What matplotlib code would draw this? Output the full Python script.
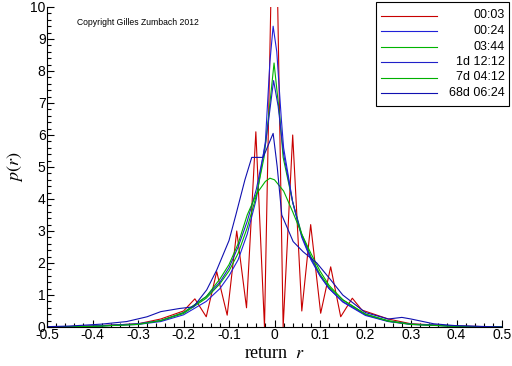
import numpy as np
import matplotlib
matplotlib.use("Agg")
import matplotlib.pyplot as plt
from matplotlib.ticker import MultipleLocator
from matplotlib.lines import Line2D
from matplotlib.patches import Rectangle

plt.rcParams['font.family'] = ['Liberation Sans', 'DejaVu Sans']
plt.rcParams['mathtext.fontset'] = 'stix'

# 00:03  (discretised returns, strong oscillation)
r_003 = [-0.5, -0.4, -0.3, -0.25, -0.2, -0.175, -0.15, -0.127, -0.104, -0.083, -0.0615,
         -0.041, -0.022, 0.0, 0.019, 0.040, 0.060, 0.0795, 0.1015, 0.1235, 0.1455,
         0.171, 0.192, 0.25, 0.3, 0.4, 0.5]
p_003 = [0.0, 0.03, 0.1, 0.25, 0.5, 0.88, 0.32, 1.73, 0.37, 3.0, 0.6,
         6.1, 0.0, 16.0, 0.0, 6.0, 0.5, 3.2, 0.43, 1.88, 0.32,
         0.9, 0.53, 0.25, 0.1, 0.03, 0.0]

# 00:24
r_024 = [-0.5, -0.4, -0.3, -0.25, -0.2, -0.15, -0.12, -0.1, -0.08, -0.06, -0.04, -0.02,
         -0.01, -0.003, 0.005, 0.015, 0.02, 0.04, 0.06, 0.08, 0.1, 0.12, 0.15, 0.2,
         0.25, 0.3, 0.4, 0.5]
p_024 = [0.0, 0.02, 0.08, 0.17, 0.38, 0.8, 1.2, 1.6, 2.1, 2.9, 4.0, 5.8,
         8.3, 9.4, 8.6, 6.5, 5.6, 3.9, 2.8, 2.1, 1.6, 1.2, 0.78, 0.36,
         0.17, 0.08, 0.02, 0.0]

# 03:44
r_344 = [-0.5, -0.4, -0.3, -0.25, -0.2, -0.15, -0.12, -0.1, -0.08, -0.06, -0.04, -0.023,
         -0.0136, -0.001, 0.012, 0.019, 0.04, 0.06, 0.08, 0.1, 0.12, 0.15, 0.2,
         0.25, 0.3, 0.4, 0.5]
p_344 = [0.0, 0.02, 0.09, 0.2, 0.42, 0.9, 1.35, 1.75, 2.3, 3.1, 4.1, 5.3,
         6.5, 8.25, 6.5, 5.3, 3.9, 2.9, 2.2, 1.65, 1.25, 0.85, 0.4,
         0.2, 0.09, 0.02, 0.0]

# 1d 12:12
r_1d = [-0.5, -0.4, -0.3, -0.25, -0.2, -0.15, -0.12, -0.1, -0.08, -0.06, -0.04, -0.02,
        -0.01, -0.002, 0.008, 0.02, 0.04, 0.06, 0.08, 0.1, 0.12, 0.15, 0.2,
        0.25, 0.3, 0.4, 0.5]
p_1d = [0.0, 0.03, 0.1, 0.2, 0.45, 0.95, 1.4, 1.85, 2.5, 3.3, 4.3, 5.7,
        6.8, 7.7, 6.9, 5.4, 3.9, 2.85, 2.15, 1.6, 1.2, 0.8, 0.38,
        0.18, 0.09, 0.03, 0.0]

# 7d 04:12 (wide, gaussian-like)
r_7d = [-0.5, -0.4, -0.3, -0.25, -0.2, -0.15, -0.12, -0.1, -0.08, -0.06, -0.04, -0.02,
        -0.01, 0.0, 0.02, 0.04, 0.06, 0.08, 0.1, 0.12, 0.15, 0.2, 0.25, 0.3, 0.4, 0.5]
p_7d = [0.0, 0.02, 0.08, 0.2, 0.45, 0.95, 1.5, 1.95, 2.6, 3.5, 4.15, 4.55,
        4.65, 4.6, 4.25, 3.6, 2.9, 2.3, 1.75, 1.3, 0.85, 0.4, 0.18, 0.08, 0.02, 0.0]

# 68d 06:24 (noisy)
r_68d = [-0.5, -0.45, -0.38, -0.325, -0.28, -0.25, -0.208, -0.178, -0.149, -0.127, -0.1,
         -0.085, -0.065, -0.05, -0.025, -0.003, 0.006, 0.016, 0.041, 0.063, 0.093,
         0.122, 0.15, 0.2, 0.25, 0.28, 0.3, 0.35, 0.4, 0.5]
p_68d = [0.01, 0.03, 0.09, 0.17, 0.32, 0.48, 0.58, 0.63, 1.16, 1.78, 2.7,
         3.5, 4.6, 5.3, 5.3, 6.05, 5.0, 3.5, 2.67, 2.35, 2.0,
         1.5, 1.0, 0.45, 0.25, 0.3, 0.25, 0.1, 0.04, 0.0]

labels = ["00:03", "00:24", "03:44", "1d 12:12", "7d 04:12", "68d 06:24"]
colors = ["#c80000", "#2020d8", "#00b400", "#2020c8", "#00b000", "#1010b0"]

fig = plt.figure(figsize=(5.12, 3.66), dpi=100)
ax = fig.add_axes([47/512, 39/366, 455/512, 320/366])

series = [(r_003, p_003), (r_024, p_024), (r_344, p_344),
          (r_1d, p_1d), (r_7d, p_7d), (r_68d, p_68d)]
for (rr, pp), c, lab in zip(series, colors, labels):
    ax.plot(rr, pp, color=c, lw=0.8, label=lab)

ax.set_xlim(-0.5, 0.5)
ax.set_ylim(0, 10)
ax.xaxis.set_major_locator(MultipleLocator(0.1))
ax.xaxis.set_minor_locator(MultipleLocator(0.02))
ax.yaxis.set_major_locator(MultipleLocator(1))
ax.yaxis.set_minor_locator(MultipleLocator(0.2))
ax.xaxis.set_major_formatter(plt.FuncFormatter(lambda v, p: "%g" % round(v, 2)))
ax.tick_params(which="both", direction="in", top=False, right=False, labelsize=10,
               width=0.8, pad=1)
ax.tick_params(which="major", length=5)
ax.tick_params(which="minor", length=3)
ax.spines["top"].set_visible(False)
ax.spines["right"].set_visible(False)
ax.spines["left"].set_linewidth(0.8)
ax.spines["bottom"].set_linewidth(0.8)

ax.set_xlabel(r"return  $r$", family="Liberation Serif", fontsize=13, labelpad=2)
ax.set_ylabel(r"$p(r)$", family="Liberation Serif", fontsize=13, labelpad=4)

ax.text(0.066, 0.965, "Copyright Gilles Zumbach 2012", transform=ax.transAxes,
        fontsize=6.2, va="top")

# legend box, text right-aligned like the original
W, H = 512.0, 366.0
fig.add_artist(Rectangle((376/W, 1 - 106/H), 133/W, 104/H, transform=fig.transFigure,
                         facecolor="white", edgecolor="black", lw=0.8, zorder=5))
for i, (c, lab) in enumerate(zip(colors, labels)):
    y = 1 - (15.5 + i * 15.5) / H
    fig.add_artist(Line2D([381/W, 437/W], [y, y], transform=fig.transFigure,
                          color=c, lw=0.8, zorder=6))
    fig.text(505/W, y, lab, ha="right", va="center", fontsize=9, zorder=6)

fig.savefig("out.png", dpi=100)
